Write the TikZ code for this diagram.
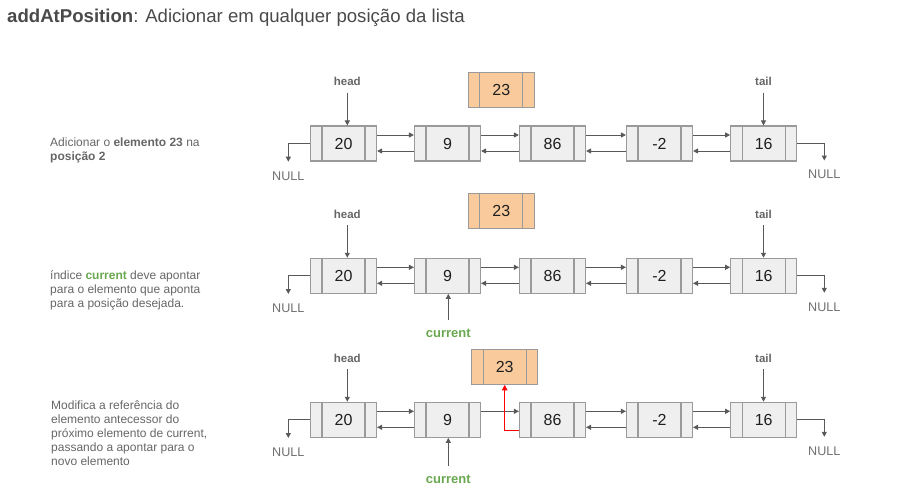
\documentclass[tikz,border=0pt]{standalone}
\usepackage{fontspec}
\setmainfont{Liberation Sans}
\usetikzlibrary{arrows.meta,calc}
\definecolor{nodefill}{HTML}{EFEFEF}
\definecolor{nodeline}{HTML}{9A9A9A}
\definecolor{arr}{HTML}{595959}
\definecolor{orangefill}{HTML}{F9CB9C}
\definecolor{titlecol}{HTML}{4A4A4A}
\definecolor{desccol}{HTML}{666666}
\definecolor{lblcol}{HTML}{666666}
\definecolor{nullcol}{HTML}{707070}
\definecolor{grn}{HTML}{6AA84F}
\definecolor{redarr}{HTML}{FF0000}
\tikzset{
  listnode/.style={draw=nodeline, fill=nodefill, line width=1.1pt,
    minimum width=66pt, minimum height=35pt, inner sep=0pt,
    font=\fontsize{16}{19}\selectfont, text=black!88,
    path picture={\draw[nodeline, line width=1.1pt]
      ([xshift=11.5pt]path picture bounding box.north west) -- ([xshift=11.5pt]path picture bounding box.south west)
      ([xshift=-11.5pt]path picture bounding box.north east) -- ([xshift=-11.5pt]path picture bounding box.south east);}},
  newnode/.style={listnode, fill=orangefill},
  link/.style={draw=arr, line width=1pt, -{Triangle[length=5pt,width=5pt]}},
  redlink/.style={draw=redarr, line width=1.2pt, -{Triangle[length=5.5pt,width=5.5pt]}},
  ptrlbl/.style={font=\fontsize{11.5}{13}\selectfont\bfseries, text=lblcol, inner sep=0pt},
  curlbl/.style={font=\fontsize{13}{15}\selectfont\bfseries, text=grn, inner sep=0pt},
  nulltxt/.style={font=\fontsize{12.6}{15}\selectfont, text=nullcol, inner sep=0pt},
  desc/.style={font=\fontsize{12}{14}\selectfont, text=desccol, inner sep=0pt, anchor=base west},
}
\begin{document}
\begin{tikzpicture}[x=1pt,y=-1pt]
\useasboundingbox (0,0) rectangle (902,495);
% title
\node[anchor=base west, inner sep=0pt, font=\fontsize{18.6}{22}\selectfont, text=titlecol] (title) at (7,22.5)
  {\textbf{addAtPosition}: Adicionar em qualquer posição da lista};
% descriptions
\node[desc] (d1) at (50,146) {\parbox[t]{220pt}{\raggedright Adicionar o \textbf{elemento 23} na\\\textbf{posição 2}}};
\node[desc] (d2) at (50,279) {\parbox[t]{220pt}{\raggedright índice \textcolor{grn}{\textbf{current}} deve apontar\\para o elemento que aponta\\para a posição desejada.}};
\node[desc] (d3) at (51,409) {\parbox[t]{220pt}{\raggedright Modifica a referência do\\elemento antecessor do\\próximo elemento de current,\\passando a apontar para o\\novo elemento}};
% rows of nodes
\foreach \r/\y in {1/143.5, 2/275.8, 3/419.8} {
  \foreach \i/\x/\v in {1/343.5/20, 2/447.5/9, 3/552.5/86, 4/659.5/-2, 5/763.7/16} {
    \node[listnode] (n\r\i) at (\x,\y) {\v};
  }
  % NULL ends
  \coordinate (nle\r) at (288.3,\y+18.2);
  \coordinate (nre\r) at (824.3,\y+17);
  \node[nulltxt] (nl\r) at (288.3,\y+32.5) {NULL};
  \node[nulltxt] (nr\r) at (824.3,\y+31) {NULL};
  \draw[link] (n\r1.west) -| (nle\r);
  \draw[link] (n\r5.east) -| (nre\r);
  % head / tail
  \node[ptrlbl] (h\r) at (347.3,\y-61.8) {head};
  \node[ptrlbl] (t\r) at (763.5,\y-61.8) {tail};
  \draw[link] ([yshift=-6.4pt]h\r.south) -- (h\r.south |- n\r1.north);
  \draw[link] ([yshift=-6.4pt]t\r.south) -- (t\r.south |- n\r5.north);
}
% forward links
\foreach \r in {1,2,3} {
  \foreach \i in {1,2,3,4} {
    \pgfmathtruncatemacro{\j}{\i+1}
    \draw[link] ([yshift=8.5pt]n\r\i.east) -- ([yshift=8.5pt]n\r\j.west);
  }
}
% backward links
\foreach \r/\list in {1/{1,2,3,4}, 2/{1,2,3,4}, 3/{1,3,4}} {
  \foreach \i in \list {
    \pgfmathtruncatemacro{\j}{\i+1}
    \draw[link] ([yshift=-7.5pt]n\r\j.west) -- ([yshift=-7.5pt]n\r\i.east);
  }
}
% new element 23
\node[newnode] (new1) at (501.3,89.8) {23};
\node[newnode] (new2) at (501.3,210.8) {23};
\node[newnode] (new3) at (504.7,366.8) {23};
% current pointers
\node[curlbl] (c2) at (448.3,333.3) {current};
\node[curlbl] (c3) at (448.3,479.3) {current};
\draw[link] ([yshift=9pt]c2.north) -- (c2.north |- n22.south);
\draw[link] ([yshift=9pt]c3.north) -- (c3.north |- n32.south);
% red link
\draw[redlink] ([yshift=-10.9pt]n33.west) -| (new3.south);
\end{tikzpicture}
\end{document}
